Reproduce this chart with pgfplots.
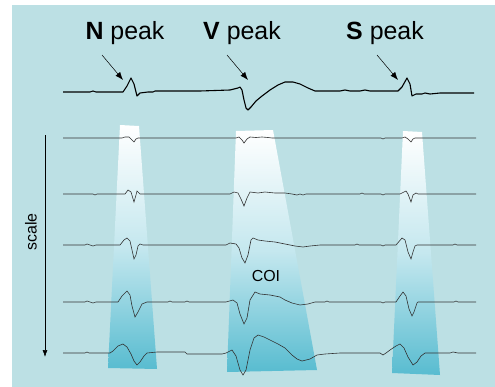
\documentclass[border=0pt]{standalone}
\usepackage{pgfplots}
\pgfplotsset{compat=1.18}
\usepackage{fontspec}
\setmainfont{Liberation Sans}
\usetikzlibrary{arrows.meta}
\definecolor{bgc}{RGB}{188,224,228}
\definecolor{teal}{RGB}{88,188,208}
\definecolor{trc}{RGB}{50,50,50}
\begin{document}
\begin{tikzpicture}
\begin{axis}[width=495bp,height=387bp,scale only axis,xmin=0,xmax=495,ymin=0,ymax=387,
  y dir=reverse,hide axis,clip=false]
% page and background
\addplot[draw=none,fill=white] coordinates {(0,0)(495,0)(495,387)(0,387)} --cycle;
\addplot[draw=none,fill=bgc] coordinates {(12,5)(495,5)(495,387)(12,387)} --cycle;
% cone of influence trapezoids
\addplot[draw=none,top color=white,bottom color=teal,middle color=teal!35!white] coordinates {(120,125)(139,126)(157,369)(108,368)} --cycle;
\addplot[draw=none,top color=white,bottom color=teal,middle color=teal!35!white] coordinates {(236,131)(273,130)(317,370)(227,372)} --cycle;
\addplot[draw=none,top color=white,bottom color=teal,middle color=teal!35!white] coordinates {(403,131)(422,132)(440,375)(392,373)} --cycle;
% top trace
\addplot[black,line width=1.1pt,line join=round] coordinates {
(63,92)(90,92)(93,91)(96,92)(123,92)(127,86)(131,78)(134,84)(137,96)(140,93)(148,92)(153,92)(155,91)(180,91)(200,91)(230,90)(238,88)(240,87)(242,90)(244,100)(246,108)(248,110)(251,107)(256,101)(262,96)(270,90)(278,85)(285,82)(293,82)(300,84)(308,88)(315,91)(340,91)(345,90)(350,91)(360,91)(365,90)(370,91)(380,91)(398,91)(402,87)(407,78)(410,84)(412,96)(416,94)(422,94)(425,93)(430,94)(440,93)(474,93)};
% lower traces
\addplot[trc,line width=0.6pt] coordinates {
(63,138)(122,138)(125,137)(129,137)(132,140)(134,142)(136,139)(138,138)(236,138)(239,137)(242,140)(244,143)(247,139)(250,137)(256,137.5)(262,137)(268,137.5)(272,138)(381,138)(383,139)(385,138)(402,138)(405,137)(408,139)(411,142)(413,139)(415,138)(476,138)};
\addplot[trc,line width=0.6pt] coordinates {
(63,194)(93,194)(95,195)(97,194)(125,194)(128,190)(131,192)(134,202)(136,195)(137,191)(140,194)(230,194)(234,192)(238,193)(241,199)(244,206)(247,198)(250,192)(258,193)(265,192)(275,193)(285,193)(292,194)(297,195)(300,194)(303,195)(306,194)(360,194)(362,193)(364,194)(381,194)(383,195)(385,194)(400,194)(406,191)(408,194)(411,202)(413,195)(416,193)(418,194)(476,194)};
\addplot[trc,line width=0.6pt] coordinates {
(63,245)(85,245)(87,244)(90,245)(93,246)(96,245)(120,245)(124,240)(127,238)(130,241)(132,250)(134,259)(136,255)(138,246)(140,244)(143,245)(148,245)(226,245)(230,243)(236,244)(239,248)(242,258)(245,263)(248,255)(251,240)(253,238)(258,240)(265,241)(275,242)(285,244)(295,246)(303,247)(310,246)(320,245)(355,245)(357,244)(359,245)(381,245)(383,246)(385,245)(396,245)(402,238)(405,240)(408,252)(411,259)(413,252)(415,246)(417,245)(453,245)(455,244)(457,245)(476,245)};
\addplot[trc,line width=0.6pt] coordinates {
(63,302)(85,302)(87,301)(90,302)(93,303)(96,302)(118,302)(122,296)(127,291)(130,295)(132,306)(135,317)(138,312)(142,304)(147,302)(168,302)(170,301)(172,302)(185,302)(187,301)(189,302)(226,302)(233,300)(237,303)(240,314)(244,324)(247,318)(250,300)(255,292)(260,294)(270,295)(280,297)(285,300)(292,303)(300,305)(308,304)(315,302)(325,302)(327,301)(329,302)(381,302)(383,303)(385,302)(396,302)(400,296)(403,292)(406,296)(409,309)(412,316)(414,312)(417,303)(418,302)(454,302)(456,301)(458,302)(476,302)};
\addplot[trc,line width=0.6pt] coordinates {
(63,353)(85,353)(87,352)(89,353)(110,353)(113,351)(118,346)(123,344)(127,347)(131,354)(134,361)(137,365)(140,362)(144,356)(147,353)(157,352)(185,352)(187,354)(222,354)(226,353)(232,350)(236,356)(240,370)(243,375)(246,370)(250,350)(254,338)(258,335)(264,337)(270,340)(278,344)(285,348)(292,355)(297,359)(302,361)(310,359)(317,355)(325,354)(340,353)(380,353)(383,355)(386,353)(390,350)(396,346)(400,344)(404,348)(408,357)(413,365)(417,362)(421,356)(425,353)(440,353)(450,353)(453,352)(458,353)(476,353)};
% annotations
\node[font=\fontsize{25}{28}\selectfont] at (axis cs:125,33) {\textbf{N} peak};
\node[font=\fontsize{25}{28}\selectfont] at (axis cs:242,33) {\textbf{V} peak};
\node[font=\fontsize{25}{28}\selectfont] at (axis cs:385,33) {\textbf{S} peak};
\draw[-{Latex[length=8pt,width=6pt]},line width=0.5pt] (axis cs:102,55) -- (axis cs:123,80);
\draw[-{Latex[length=8pt,width=6pt]},line width=0.5pt] (axis cs:227,55) -- (axis cs:248,80);
\draw[-{Latex[length=8pt,width=6pt]},line width=0.5pt] (axis cs:377,55) -- (axis cs:398,80);
\draw[-{Latex[length=7pt,width=5pt]},line width=0.6pt] (axis cs:45,135) -- (axis cs:45,357);
\node[rotate=90,font=\fontsize{16}{18}\selectfont] at (axis cs:31,232) {scale};
\node[font=\fontsize{16}{18}\selectfont] at (axis cs:266,276) {COI};
\end{axis}
\end{tikzpicture}
\end{document}
